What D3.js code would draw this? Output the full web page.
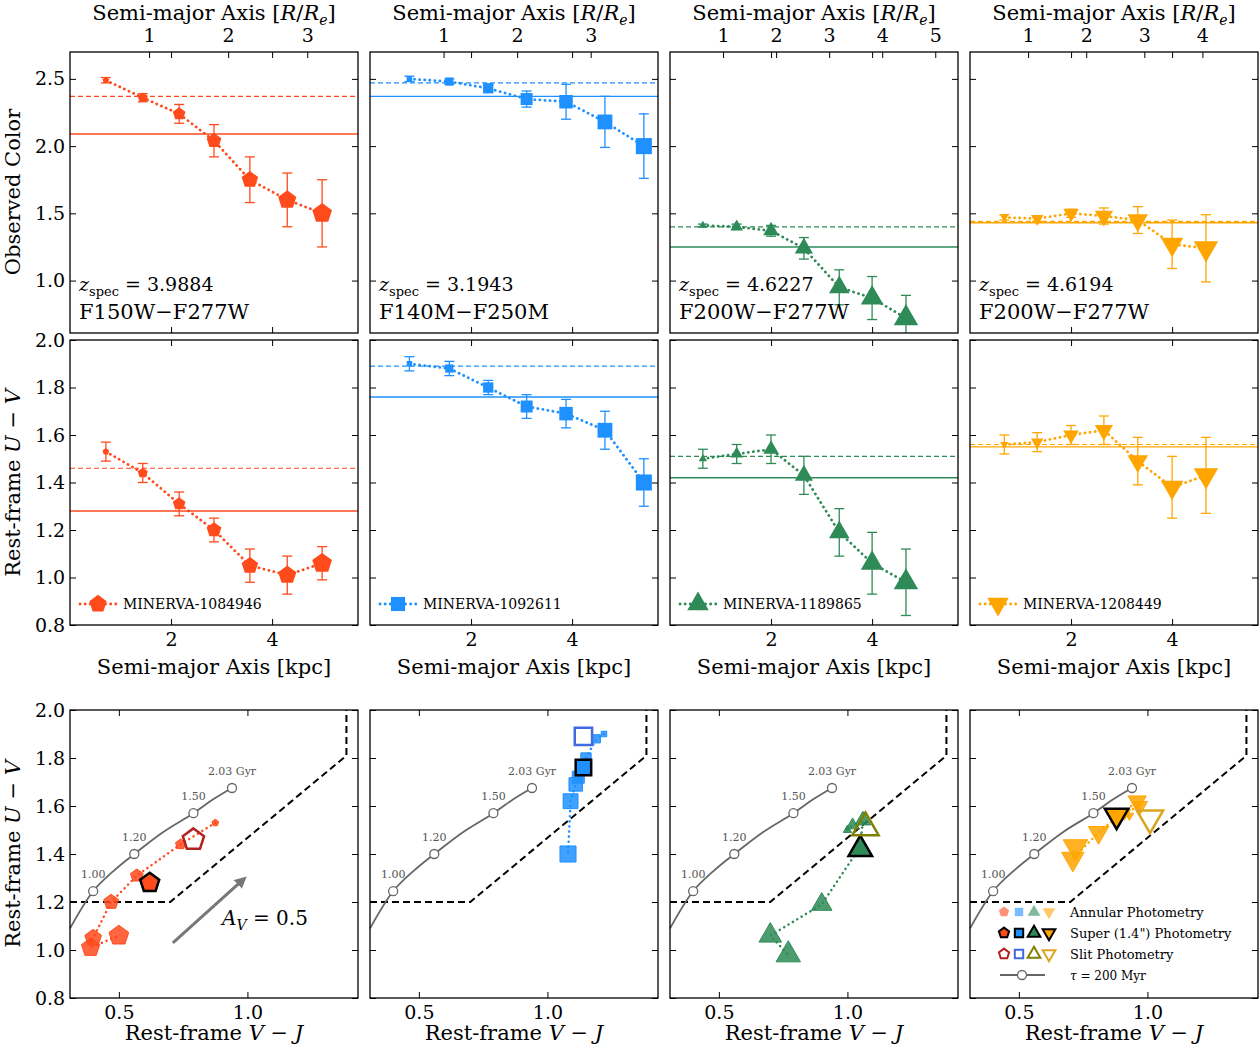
<!DOCTYPE html>
<html><head><meta charset="utf-8">
<script src="https://cdn.jsdelivr.net/npm/d3@7"></script>
<style>body{margin:0;background:#fff}text{font-family:"DejaVu Serif",serif}</style>
</head><body><svg id="c" width="1260" height="1048"></svg>
<script>
// data per galaxy
var names = ["MINERVA-1084946", "MINERVA-1092611", "MINERVA-1189865", "MINERVA-1208449"];
var zspec = ["3.9884", "3.1943", "4.6227", "4.6194"];
var filters = ["F150W\u2212F277W", "F140M\u2212F250M", "F200W\u2212F277W", "F200W\u2212F277W"];
var reKpc = [1.565, 1.456, 1.05, 1.15];
var reTicks = [[1, 2, 3], [1, 2, 3], [1, 2, 3, 4, 5], [1, 2, 3, 4]];
var colors = ["#ff4a1c", "#1e90ff", "#2e8b57", "#ffa500"];
var slitColors = ["#b22222", "#4169e1", "#808000", "#daa520"];
var shapes = ["pentagon", "square", "up", "down"];

var radii = [
  [0.71, 1.44, 2.16, 2.85, 3.56, 4.30, 4.99],
  [0.78, 1.57, 2.34, 3.10, 3.88, 4.65, 5.42],
  [0.65, 1.32, 2.00, 2.65, 3.35, 4.00, 4.67],
  [0.68, 1.33, 2.00, 2.65, 3.32, 4.00, 4.67]
];
var obsColor = [
  [2.49, 2.36, 2.24, 2.04, 1.75, 1.60, 1.50],
  [2.50, 2.48, 2.43, 2.35, 2.33, 2.18, 2.00],
  [1.41, 1.40, 1.37, 1.24, 0.95, 0.87, 0.72],
  [1.47, 1.46, 1.50, 1.48, 1.45, 1.27, 1.24]
];
var obsErr = [
  [0.02, 0.03, 0.07, 0.12, 0.17, 0.20, 0.25],
  [0.02, 0.02, 0.03, 0.06, 0.13, 0.19, 0.24],
  [0.01, 0.02, 0.04, 0.08, 0.13, 0.16, 0.17],
  [0.02, 0.02, 0.03, 0.06, 0.10, 0.18, 0.25]
];
var obsSuper = [2.37, 2.47, 1.40, 1.44];   // dashed
var obsSlit = [2.09, 2.37, 1.25, 1.43];    // solid
var uv = [
  [1.53, 1.44, 1.31, 1.20, 1.05, 1.01, 1.06],
  [1.90, 1.88, 1.80, 1.72, 1.69, 1.62, 1.40],
  [1.50, 1.52, 1.54, 1.43, 1.19, 1.06, 0.98],
  [1.56, 1.57, 1.60, 1.62, 1.49, 1.38, 1.43]
];
var uvErr = [
  [0.04, 0.04, 0.05, 0.05, 0.07, 0.08, 0.07],
  [0.03, 0.03, 0.03, 0.05, 0.06, 0.08, 0.10],
  [0.04, 0.04, 0.06, 0.08, 0.10, 0.13, 0.14],
  [0.04, 0.04, 0.04, 0.06, 0.10, 0.13, 0.16]
];
var uvSuper = [1.46, 1.89, 1.51, 1.56];
var uvSlit = [1.28, 1.76, 1.42, 1.55];
var vj = [
  [0.875, 0.74, 0.57, 0.47, 0.40, 0.39, 0.50],
  [1.22, 1.19, 1.15, 1.12, 1.11, 1.09, 1.08],
  [1.00, 1.02, 1.06, 1.05, 0.90, 0.70, 0.77],
  [0.93, 0.91, 0.97, 0.96, 0.81, 0.71, 0.72]
];
var superVJ = [[0.62, 1.28], [1.14, 1.76], [1.05, 1.42], [0.88, 1.56]];
var slitVJ = [[0.79, 1.46], [1.14, 1.89], [1.07, 1.51], [1.01, 1.55]];
var trackVJ = [0.31, 0.40, 0.48, 0.56, 0.67, 0.79, 0.87, 0.94];
var trackUV = [1.09, 1.245, 1.33, 1.40, 1.49, 1.57, 1.63, 1.675];
var trackAges = [["1.00", 0.40, 1.245], ["1.20", 0.56, 1.40], ["1.50", 0.79, 1.57], ["2.03 Gyr", 0.94, 1.675]];
var boxVJ = [0.31, 0.70, 1.385, 1.385];
var boxUV = [1.20, 1.20, 1.81, 2.0];

var svg = d3.select("#c");
var colX = [70, 370, 670, 970], pw = 288;
var rows = {r1: [52, 333], r2: [340, 625], r3: [710, 998]};
var DOT = "0.1,5";

function marker(shape, size) {
  var t = {pentagon: d3.symbolStar, square: d3.symbolSquare, up: d3.symbolTriangle, down: d3.symbolTriangle}[shape];
  if (shape == "pentagon") {
    var r = Math.sqrt(size / 2.4), p = [];
    for (var i = 0; i < 5; i++) { var a = -Math.PI / 2 + i * 2 * Math.PI / 5; p.push([r * Math.cos(a), r * Math.sin(a)]); }
    return "M" + p.join("L") + "Z";
  }
  return d3.symbol().type(t).size(size)();
}
function rot(shape) { return shape == "down" ? " rotate(180)" : ""; }
function sz(i) { return 30 + i * 38; }

function frame(g, x, y) {
  g.append("rect").attr("x", x.range()[0]).attr("y", y.range()[1])
    .attr("width", x.range()[1] - x.range()[0]).attr("height", y.range()[0] - y.range()[1])
    .attr("fill", "none").attr("stroke", "#000").attr("stroke-width", 1.3);
}
function axes(g, x, y, xt, yt, showX, showY, xfmt) {
  var y0 = y.range()[0], y1 = y.range()[1], x0 = x.range()[0], x1 = x.range()[1];
  var ax = g.append("g").attr("transform", "translate(0," + y0 + ")")
    .call(d3.axisBottom(x).tickValues(xt).tickSizeInner(-6).tickSizeOuter(0).tickFormat(showX ? d3.format(xfmt) : ""));
  var at = g.append("g").attr("transform", "translate(0," + y1 + ")")
    .call(d3.axisTop(x).tickValues(xt).tickSizeInner(-6).tickSizeOuter(0).tickFormat(""));
  var ay = g.append("g").attr("transform", "translate(" + x0 + ",0)")
    .call(d3.axisLeft(y).tickValues(yt).tickSizeInner(-6).tickSizeOuter(0).tickFormat(showY ? d3.format(".1f") : ""));
  var ar = g.append("g").attr("transform", "translate(" + x1 + ",0)")
    .call(d3.axisRight(y).tickValues(yt).tickSizeInner(-6).tickSizeOuter(0).tickFormat(""));
  [ax, at, ay, ar].forEach(function (a) {
    a.select(".domain").remove();
    a.selectAll("text").attr("font-size", 19).attr("font-family", "DejaVu Serif").attr("fill", "#000");
  });
  ax.selectAll("text").attr("dy", "0.95em");
  ay.selectAll("text").attr("dx", "-0.1em");
}

for (var c = 0; c < 4; c++) {
  var g = svg.append("g");
  var x = d3.scaleLinear().domain([0, 5.7]).range([colX[c], colX[c] + pw]);
  var col = colors[c];

  var y1 = d3.scaleLinear().domain([0.61, 2.7]).range([rows.r1[1], rows.r1[0]]);
  var y2 = d3.scaleLinear().domain([0.8, 2.0]).range([rows.r2[1], rows.r2[0]]);

  [[y1, obsColor[c], obsErr[c], obsSuper[c], obsSlit[c], 1], [y2, uv[c], uvErr[c], uvSuper[c], uvSlit[c], 2]].forEach(function (d) {
    var y = d[0], vals = d[1], err = d[2];
    var clip = "clip" + c + d[5];
    g.append("clipPath").attr("id", clip).append("rect").attr("x", x.range()[0]).attr("y", y.range()[1])
      .attr("width", pw).attr("height", y.range()[0] - y.range()[1]);
    var p = g.append("g").attr("clip-path", "url(#" + clip + ")");
    p.append("line").attr("x1", x.range()[0]).attr("x2", x.range()[1]).attr("y1", y(d[3])).attr("y2", y(d[3]))
      .attr("stroke", col).attr("stroke-width", 1.2).attr("stroke-dasharray", "5,3");
    p.append("line").attr("x1", x.range()[0]).attr("x2", x.range()[1]).attr("y1", y(d[4])).attr("y2", y(d[4]))
      .attr("stroke", col).attr("stroke-width", 1.4);
    p.append("path").datum(vals).attr("fill", "none").attr("stroke", col).attr("stroke-width", 2.8)
      .attr("stroke-dasharray", DOT).attr("stroke-linecap", "round")
      .attr("d", d3.line().x(function (v, i) { return x(radii[c][i]); }).y(function (v) { return y(v); }));
    vals.forEach(function (v, i) {
      var xx = x(radii[c][i]);
      p.append("line").attr("x1", xx).attr("x2", xx).attr("y1", y(v - err[i])).attr("y2", y(v + err[i])).attr("stroke", col).attr("stroke-width", 1.3);
      [v - err[i], v + err[i]].forEach(function (e) {
        p.append("line").attr("x1", xx - 5).attr("x2", xx + 5).attr("y1", y(e)).attr("y2", y(e)).attr("stroke", col).attr("stroke-width", 1.3);
      });
      p.append("path").attr("d", marker(shapes[c], sz(i))).attr("fill", col)
        .attr("transform", "translate(" + xx + "," + y(v) + ")" + rot(shapes[c]));
    });
    frame(g, x, y);
    axes(g, x, y, [2, 4], d[5] == 1 ? [1.0, 1.5, 2.0, 2.5] : [0.8, 1.0, 1.2, 1.4, 1.6, 1.8, 2.0], d[5] == 2, c == 0, "d");
  });

  // top axis in R/Re
  var tt = g.append("g").attr("transform", "translate(0," + rows.r1[0] + ")")
    .call(d3.axisTop(x).tickValues(reTicks[c].map(function (n) { return n * reKpc[c]; }))
      .tickFormat(function (v, i) { return reTicks[c][i]; }).tickSizeInner(6).tickSizeOuter(0));
  tt.select(".domain").remove();
  tt.selectAll("line").attr("y2", 6);
  tt.selectAll("text").attr("font-size", 19).attr("font-family", "DejaVu Serif").attr("dy", "-0.05em");
  var ttl = g.append("text").attr("x", colX[c] + pw / 2).attr("y", 20).attr("text-anchor", "middle").attr("font-size", 21);
  ttl.append("tspan").text("Semi-major Axis [");
  ttl.append("tspan").attr("font-style", "italic").text("R");
  ttl.append("tspan").text("/");
  ttl.append("tspan").attr("font-style", "italic").text("R");
  ttl.append("tspan").attr("font-style", "italic").attr("font-size", 14).attr("dy", 5).text("e");
  ttl.append("tspan").attr("dy", -5).text("]");

  // z spec and filter
  var zt = g.append("text").attr("x", colX[c] + 9).attr("y", 291).attr("font-size", 19);
  zt.append("tspan").attr("font-style", "italic").text("z");
  zt.append("tspan").attr("font-size", 13).attr("dy", 5).text("spec");
  zt.append("tspan").attr("dy", -5).text(" = " + zspec[c]);
  g.append("text").attr("x", colX[c] + 9).attr("y", 319).attr("font-size", 21).text(filters[c]);

  // legend row 2
  var ly = 604, lx = colX[c] + 10;
  g.append("line").attr("x1", lx).attr("x2", lx + 36).attr("y1", ly).attr("y2", ly).attr("stroke", col)
    .attr("stroke-width", 2.8).attr("stroke-dasharray", DOT).attr("stroke-linecap", "round");
  g.append("path").attr("d", marker(shapes[c], 200)).attr("fill", col).attr("transform", "translate(" + (lx + 18) + "," + ly + ")" + rot(shapes[c]));
  g.append("text").attr("x", lx + 43).attr("y", ly + 5).attr("font-size", 14).text(names[c]);

  g.append("text").attr("x", colX[c] + pw / 2).attr("y", 674).attr("text-anchor", "middle").attr("font-size", 21).text("Semi-major Axis [kpc]");

  // row 3 UVJ
  var x3 = d3.scaleLinear().domain([0.31, 1.43]).range([colX[c], colX[c] + pw]);
  var y3 = d3.scaleLinear().domain([0.8, 2.0]).range([rows.r3[1], rows.r3[0]]);
  var line = d3.line().x(function (d) { return x3(d[0]); }).y(function (d) { return y3(d[1]); });
  g.append("path").attr("d", line(boxVJ.map(function (v, i) { return [v, boxUV[i]]; })))
    .attr("fill", "none").attr("stroke", "#000").attr("stroke-width", 2).attr("stroke-dasharray", "7,4");
  g.append("path").attr("d", d3.line().curve(d3.curveCatmullRom).x(function (d) { return x3(d[0]); }).y(function (d) { return y3(d[1]); })(trackVJ.map(function (v, i) { return [v, trackUV[i]]; })))
    .attr("fill", "none").attr("stroke", "#666").attr("stroke-width", 1.8);
  trackAges.forEach(function (a) {
    g.append("circle").attr("cx", x3(a[1])).attr("cy", y3(a[2])).attr("r", 4.5).attr("fill", "#fff").attr("stroke", "#666").attr("stroke-width", 1.3);
    g.append("text").attr("x", x3(a[1])).attr("y", y3(a[2]) - 13).attr("text-anchor", "middle").attr("font-size", 11).attr("fill", "#555").text(a[0]);
  });
  var pts = vj[c].map(function (v, i) { return [v, uv[c][i]]; });
  g.append("path").attr("d", line(pts)).attr("fill", "none").attr("stroke", col).attr("stroke-width", 2.5)
    .attr("stroke-dasharray", DOT).attr("stroke-linecap", "round");
  pts.forEach(function (d, i) {
    g.append("path").attr("d", marker(shapes[c], sz(i))).attr("fill", col).attr("fill-opacity", 0.85).attr("stroke", col)
      .attr("transform", "translate(" + x3(d[0]) + "," + y3(d[1]) + ")" + rot(shapes[c]));
  });
  g.append("path").attr("d", marker(shapes[c], 240)).attr("fill", col).attr("stroke", "#000").attr("stroke-width", 2.5)
    .attr("transform", "translate(" + x3(superVJ[c][0]) + "," + y3(superVJ[c][1]) + ")" + rot(shapes[c]));
  g.append("path").attr("d", marker(shapes[c], 300)).attr("fill", "none").attr("stroke", slitColors[c]).attr("stroke-width", 2.5)
    .attr("transform", "translate(" + x3(slitVJ[c][0]) + "," + y3(slitVJ[c][1]) + ")" + rot(shapes[c]));
  frame(g, x3, y3);
  axes(g, x3, y3, [0.5, 1.0], [0.8, 1.0, 1.2, 1.4, 1.6, 1.8, 2.0], true, c == 0, ".1f");
  var xl = g.append("text").attr("x", colX[c] + pw / 2).attr("y", 1040).attr("text-anchor", "middle").attr("font-size", 21);
  xl.append("tspan").text("Rest-frame ");
  xl.append("tspan").attr("font-style", "italic").text("V");
  xl.append("tspan").text(" \u2212 ");
  xl.append("tspan").attr("font-style", "italic").text("J");
}

// y labels
function ylab(y, parts) {
  var t = svg.append("text").attr("transform", "translate(20," + y + ") rotate(-90)").attr("text-anchor", "middle").attr("font-size", 21);
  parts.forEach(function (p) { t.append("tspan").attr("font-style", p[1] ? "italic" : null).text(p[0]); });
}
ylab(192, [["Observed Color", 0]]);
ylab(483, [["Rest-frame ", 0], ["U", 1], [" \u2212 ", 0], ["V", 1]]);
ylab(854, [["Rest-frame ", 0], ["U", 1], [" \u2212 ", 0], ["V", 1]]);

// Av arrow in first UVJ panel
var ax3 = d3.scaleLinear().domain([0.31, 1.43]).range([70, 358]);
var ay3 = d3.scaleLinear().domain([0.8, 2.0]).range([998, 710]);
svg.append("defs").append("marker").attr("id", "ah").attr("viewBox", "0 0 10 10").attr("refX", 5).attr("refY", 5)
  .attr("markerWidth", 4).attr("markerHeight", 4).attr("orient", "auto")
  .append("path").attr("d", "M0,0L10,5L0,10Z").attr("fill", "#777");
svg.append("line").attr("x1", ax3(0.71)).attr("y1", ay3(1.03)).attr("x2", ax3(0.98)).attr("y2", ay3(1.29))
  .attr("stroke", "#777").attr("stroke-width", 3).attr("marker-end", "url(#ah)");
var avt = svg.append("text").attr("x", 222).attr("y", 925).attr("font-size", 20);
avt.append("tspan").attr("font-style", "italic").text("A");
avt.append("tspan").attr("font-style", "italic").attr("font-size", 14).attr("dy", 5).text("V");
avt.append("tspan").attr("dy", -5).text(" = 0.5");

// UVJ legend in last panel
var leg = svg.append("g");
var lrows = [912, 933, 954, 975], lx0 = 1004;
var labels = ["Annular Photometry", "Super (1.4\") Photometry", "Slit Photometry"];
for (var r = 0; r < 3; r++) {
  for (var k = 0; k < 4; k++) {
    var p = leg.append("path").attr("d", marker(shapes[k], 70))
      .attr("transform", "translate(" + (lx0 + k * 15) + "," + lrows[r] + ")" + rot(shapes[k]));
    if (r == 0) p.attr("fill", colors[k]).attr("fill-opacity", 0.6);
    if (r == 1) p.attr("fill", colors[k]).attr("stroke", "#000").attr("stroke-width", 2);
    if (r == 2) p.attr("fill", "none").attr("stroke", slitColors[k]).attr("stroke-width", 2);
  }
  leg.append("text").attr("x", 1070).attr("y", lrows[r] + 5).attr("font-size", 13).text(labels[r]);
}
leg.append("line").attr("x1", 1000).attr("x2", 1045).attr("y1", lrows[3]).attr("y2", lrows[3]).attr("stroke", "#666").attr("stroke-width", 1.8);
leg.append("circle").attr("cx", 1022).attr("cy", lrows[3]).attr("r", 4.5).attr("fill", "#fff").attr("stroke", "#666").attr("stroke-width", 1.3);
var tl = leg.append("text").attr("x", 1070).attr("y", lrows[3] + 5).attr("font-size", 12);
tl.append("tspan").attr("font-style", "italic").text("\u03c4");
tl.append("tspan").text(" = 200 Myr");
</script></body></html>
